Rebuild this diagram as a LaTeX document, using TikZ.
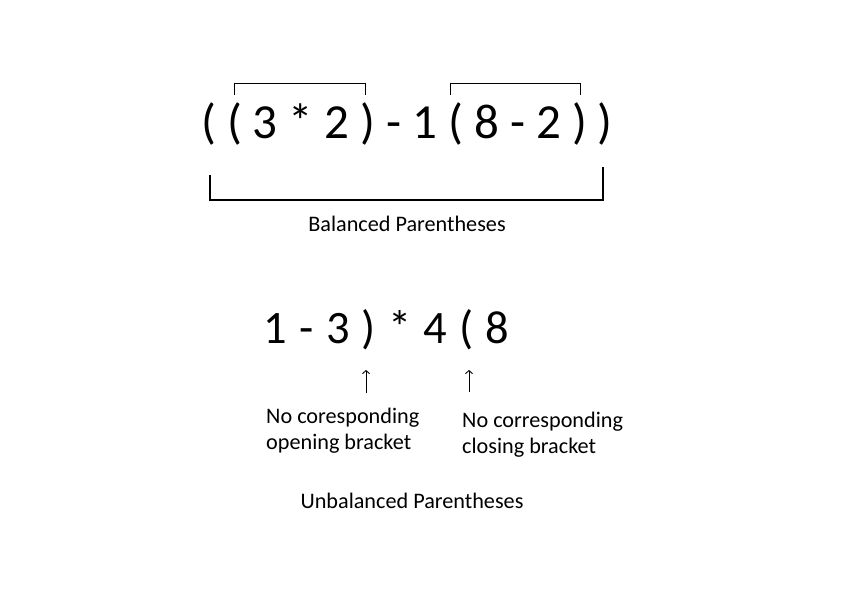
\documentclass[tikz,border=0pt]{standalone}
\usepackage{fontspec}
\setmainfont{Carlito}
\usetikzlibrary{arrows.meta}
\newcommand{\widerspaces}{\spaceskip=12.2pt\relax}
\begin{document}
\begin{tikzpicture}[x=1pt,y=-1pt,
  bigexpr/.style={inner sep=0pt,anchor=base,font=\fontsize{49}{58}\selectfont},
  smallexpr/.style={inner sep=0pt,anchor=base,font={\fontsize{46.5}{56}\selectfont\widerspaces}},
  caption/.style={inner sep=0pt,font=\fontsize{22.2}{25.5}\selectfont},
  thinbracket/.style={line width=1pt},
  thickbracket/.style={line width=2pt},
  pointer/.style={line width=0.9pt,-{Straight Barb[length=3pt,width=7pt]}}]
\useasboundingbox (0,0) rectangle (845,607);
\fill[white] (0,0) rectangle (845,607);
% balanced expression
\node[bigexpr] (bal) at (407,138) {( ( 3 * 2 ) - 1 ( 8 - 2 ) )};
\draw[thinbracket] (234,95) -- (234,84) -- (365,84) -- (365,95);
\draw[thinbracket] (450,95) -- (450,84) -- (580,84) -- (580,95);
\draw[thickbracket] (210,175) -- (210,200) -- (603,200) -- (603,167);
\node[caption,anchor=base] (baltxt) at (407,231) {Balanced Parentheses};
% unbalanced expression
\node[smallexpr] (unb) at (386.5,343) {1 - 3 ) * 4 ( 8};
\coordinate (p1s) at (366,393);
\coordinate (p1e) at (366,370);
\coordinate (p2s) at (469,392);
\coordinate (p2e) at (469,370);
\draw[pointer] (p1s) -- (p1e);
\draw[pointer] (p2s) -- (p2e);
\node[caption,anchor=base west,align=left] (open) at (266,449) {No coresponding\\opening bracket};
\node[caption,anchor=base west,align=left] (close) at (462,453) {No corresponding\\closing bracket};
\node[caption,anchor=base] (unbtxt) at (412,508) {Unbalanced Parentheses};
\end{tikzpicture}
\end{document}
